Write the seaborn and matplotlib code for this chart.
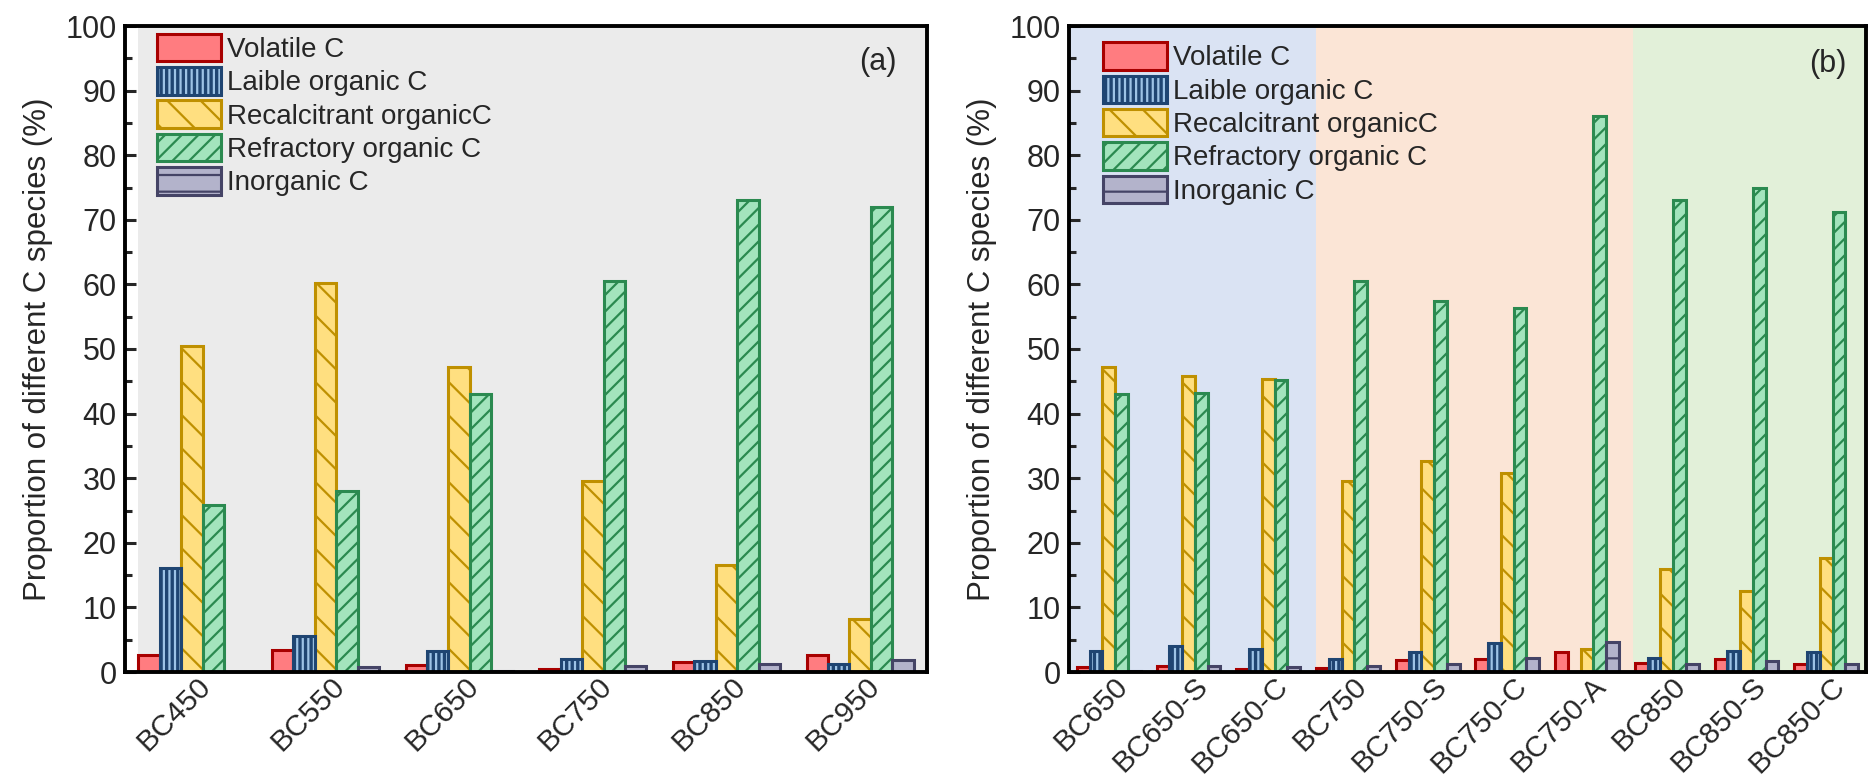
import matplotlib.pyplot as plt
import matplotlib.patches as mpatches
import matplotlib.transforms as mtransforms
from matplotlib.legend_handler import HandlerTuple
from matplotlib.ticker import MultipleLocator
import seaborn as sns
import pandas as pd

# Carbon species (legend order)
species = ['Volatile C', 'Laible organic C', 'Recalcitrant organicC',
           'Refractory organic C', 'Inorganic C']

# Panel (a): pyrolysis temperature series
samples_a = ['BC450', 'BC550', 'BC650', 'BC750', 'BC850', 'BC950']
volatile_a = [2.6, 3.4, 1.1, 0.5, 1.5, 2.7]
laible_a = [16.1, 5.5, 3.3, 2.0, 1.7, 1.3]
recalc_a = [50.5, 60.2, 47.2, 29.6, 16.5, 8.2]
refract_a = [25.9, 28.0, 43.0, 60.5, 73.0, 72.0]
inorg_a = [0.0, 0.7, 0.2, 0.9, 1.3, 1.8]

# Panel (b): modified biochars
samples_b = ['BC650', 'BC650-S', 'BC650-C', 'BC750', 'BC750-S', 'BC750-C',
             'BC750-A', 'BC850', 'BC850-S', 'BC850-C']
volatile_b = [0.8, 0.9, 0.4, 0.6, 1.8, 2.0, 3.1, 1.4, 2.0, 1.3]
laible_b = [3.2, 4.0, 3.5, 2.0, 3.1, 4.5, 0.0, 2.2, 3.3, 3.1]
recalc_b = [47.2, 45.8, 45.4, 29.6, 32.6, 30.8, 3.5, 16.0, 12.6, 17.7]
refract_b = [43.0, 43.2, 45.2, 60.5, 57.4, 56.3, 86.0, 73.0, 75.0, 71.2]
inorg_b = [0.2, 1.0, 0.8, 1.0, 1.3, 2.2, 4.6, 1.3, 1.75, 1.3]

FACES = ['#FF7C80', '#1F4572', '#FFDF80', '#A3E4BD', '#B3B3CB']
EDGES = ['#A80000', '#1F4572', '#BF9000', '#2B8A50', '#454466']
HATCHES = ['', '|||', '\\', '//', '-']
LIGHT_BLUE = '#9DC3E6'
BAR_LW = 2.2

sns.set_theme(style='white')
plt.rcParams['font.family'] = ['Liberation Sans', 'DejaVu Sans']
plt.rcParams['hatch.linewidth'] = 1.6


def long_df(samples, cols):
    rows = []
    for sp, vals in zip(species, cols):
        for s, v in zip(samples, vals):
            rows.append({'sample': s, 'species': sp, 'value': v})
    return pd.DataFrame(rows)


def draw_panel(ax, df, order, spans, tag, leg_anchor, tag_pos):
    for x0, x1, c in spans:
        ax.axvspan(x0, x1, color=c, zorder=0, lw=0)

    sns.barplot(data=df, x='sample', y='value', hue='species', order=order,
                hue_order=species, palette=FACES, saturation=1, width=0.8,
                errorbar=None, legend=False, ax=ax, zorder=2)

    for i, cont in enumerate(ax.containers):
        for p in cont:
            p.set_hatch(HATCHES[i])
            if i == 1:
                # dark bar with light stripes, outlined in navy
                p.set_facecolor(FACES[1])
                p.set_edgecolor(LIGHT_BLUE)
                p.set_linewidth(0)
                ax.add_patch(mpatches.Rectangle((p.get_x(), p.get_y()), p.get_width(),
                                                p.get_height(), fill=False,
                                                ec=EDGES[1], lw=BAR_LW, zorder=2.5))
            else:
                p.set_edgecolor(EDGES[i])
                p.set_linewidth(BAR_LW)

    handles = []
    for i in range(len(species)):
        if i == 1:
            handles.append((mpatches.Patch(facecolor=FACES[1], edgecolor=LIGHT_BLUE,
                                           hatch=HATCHES[1], linewidth=0),
                            mpatches.Patch(facecolor='none', edgecolor=EDGES[1],
                                           linewidth=BAR_LW)))
        else:
            handles.append(mpatches.Patch(facecolor=FACES[i], edgecolor=EDGES[i],
                                          hatch=HATCHES[i], linewidth=BAR_LW))
    ax.legend(handles, species, handler_map={tuple: HandlerTuple(ndivide=1, pad=0)},
              loc='upper left', bbox_to_anchor=leg_anchor, frameon=False,
              fontsize=20, handlelength=2.3, handleheight=1.15, handletextpad=0.2,
              labelspacing=0.15, borderpad=0, borderaxespad=0)

    ax.set_xlim(-0.5, len(order) - 0.5)
    ax.set_ylim(0, 100)
    ax.yaxis.set_major_locator(MultipleLocator(10))
    ax.yaxis.set_minor_locator(MultipleLocator(5))
    ax.tick_params(axis='y', which='major', direction='in', length=8, width=2.2,
                   labelsize=22, left=True, pad=6)
    ax.tick_params(axis='y', which='minor', direction='in', length=5, width=2.2, left=True)
    ax.tick_params(axis='x', length=0, labelsize=21.5, pad=0)
    shift = mtransforms.ScaledTranslation(0.05, 0.0, ax.figure.dpi_scale_trans)
    for lab in ax.get_xticklabels():
        lab.set_rotation(45)
        lab.set_ha('right')
        lab.set_rotation_mode('anchor')
        lab.set_transform(lab.get_transform() + shift)
    ax.set_xlabel('')
    ax.set_ylabel('Proportion of different C species (%)', fontsize=22.5, labelpad=9)
    for sp in ax.spines.values():
        sp.set_linewidth(2.8)
        sp.set_color('black')
    ax.text(tag_pos[0], tag_pos[1], tag, transform=ax.transAxes, ha='right', va='top',
            fontsize=22)


fig = plt.figure(figsize=(18.68, 7.76), dpi=100)
ax_a = fig.add_axes([125 / 1868, 104 / 776, 802 / 1868, 646 / 776])
ax_b = fig.add_axes([1069 / 1868, 104 / 776, 797 / 1868, 646 / 776])

df_a = long_df(samples_a, [volatile_a, laible_a, recalc_a, refract_a, inorg_a])
df_b = long_df(samples_b, [volatile_b, laible_b, recalc_b, refract_b, inorg_b])

draw_panel(ax_a, df_a, samples_a, [(-0.4, 5.5, '#EBEBEB')], '(a)',
           (0.04, 0.988), (0.962, 0.968))
draw_panel(ax_b, df_b, samples_b,
           [(-0.5, 2.6, '#DAE3F3'), (2.6, 6.58, '#FBE5D6'), (6.58, 9.5, '#E2F0D9')],
           '(b)', (0.043, 0.975), (0.976, 0.964))

fig.savefig('out.png', dpi=100)
